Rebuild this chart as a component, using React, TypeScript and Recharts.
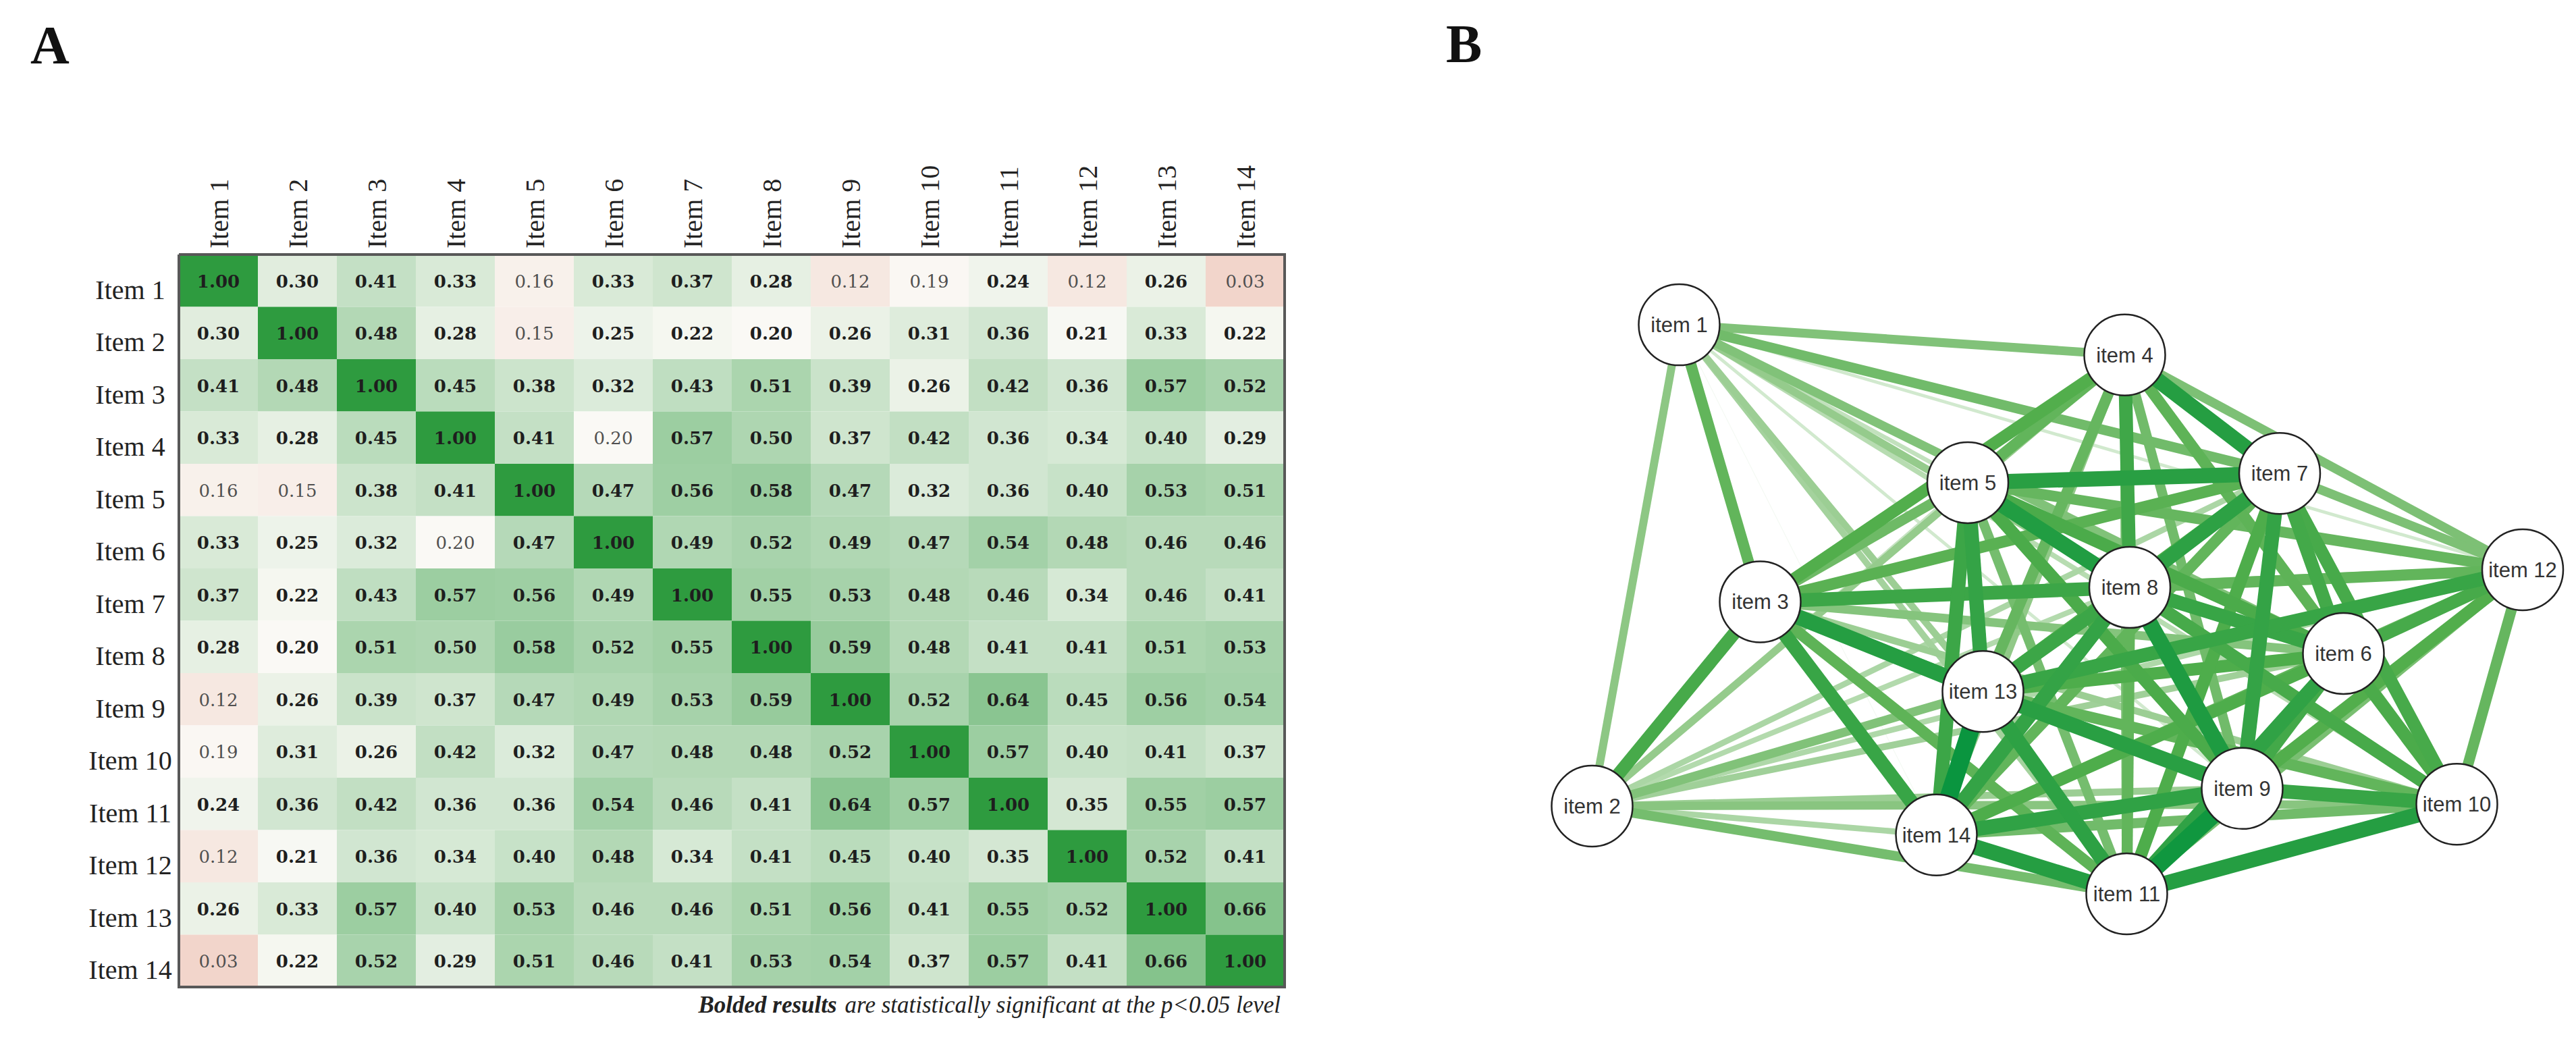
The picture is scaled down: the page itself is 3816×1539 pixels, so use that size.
import React from "react";
import { ScatterChart, Scatter, XAxis, YAxis } from "recharts";

// ---- data ----
const ITEMS = [
  "Item 1", "Item 2", "Item 3", "Item 4", "Item 5", "Item 6", "Item 7",
  "Item 8", "Item 9", "Item 10", "Item 11", "Item 12", "Item 13", "Item 14",
];
const NODE_LABELS = [
  "item 1", "item 2", "item 3", "item 4", "item 5", "item 6", "item 7",
  "item 8", "item 9", "item 10", "item 11", "item 12", "item 13", "item 14",
];

const ROW_1 = [1.0, 0.3, 0.41, 0.33, 0.16, 0.33, 0.37, 0.28, 0.12, 0.19, 0.24, 0.12, 0.26, 0.03];
const ROW_2 = [0.3, 1.0, 0.48, 0.28, 0.15, 0.25, 0.22, 0.2, 0.26, 0.31, 0.36, 0.21, 0.33, 0.22];
const ROW_3 = [0.41, 0.48, 1.0, 0.45, 0.38, 0.32, 0.43, 0.51, 0.39, 0.26, 0.42, 0.36, 0.57, 0.52];
const ROW_4 = [0.33, 0.28, 0.45, 1.0, 0.41, 0.2, 0.57, 0.5, 0.37, 0.42, 0.36, 0.34, 0.4, 0.29];
const ROW_5 = [0.16, 0.15, 0.38, 0.41, 1.0, 0.47, 0.56, 0.58, 0.47, 0.32, 0.36, 0.4, 0.53, 0.51];
const ROW_6 = [0.33, 0.25, 0.32, 0.2, 0.47, 1.0, 0.49, 0.52, 0.49, 0.47, 0.54, 0.48, 0.46, 0.46];
const ROW_7 = [0.37, 0.22, 0.43, 0.57, 0.56, 0.49, 1.0, 0.55, 0.53, 0.48, 0.46, 0.34, 0.46, 0.41];
const ROW_8 = [0.28, 0.2, 0.51, 0.5, 0.58, 0.52, 0.55, 1.0, 0.59, 0.48, 0.41, 0.41, 0.51, 0.53];
const ROW_9 = [0.12, 0.26, 0.39, 0.37, 0.47, 0.49, 0.53, 0.59, 1.0, 0.52, 0.64, 0.45, 0.56, 0.54];
const ROW_10 = [0.19, 0.31, 0.26, 0.42, 0.32, 0.47, 0.48, 0.48, 0.52, 1.0, 0.57, 0.4, 0.41, 0.37];
const ROW_11 = [0.24, 0.36, 0.42, 0.36, 0.36, 0.54, 0.46, 0.41, 0.64, 0.57, 1.0, 0.35, 0.55, 0.57];
const ROW_12 = [0.12, 0.21, 0.36, 0.34, 0.4, 0.48, 0.34, 0.41, 0.45, 0.4, 0.35, 1.0, 0.52, 0.41];
const ROW_13 = [0.26, 0.33, 0.57, 0.4, 0.53, 0.46, 0.46, 0.51, 0.56, 0.41, 0.55, 0.52, 1.0, 0.66];
const ROW_14 = [0.03, 0.22, 0.52, 0.29, 0.51, 0.46, 0.41, 0.53, 0.54, 0.37, 0.57, 0.41, 0.66, 1.0];
const MATRIX = [ROW_1, ROW_2, ROW_3, ROW_4, ROW_5, ROW_6, ROW_7, ROW_8, ROW_9, ROW_10, ROW_11, ROW_12, ROW_13, ROW_14];

// item pairs (1-based) that are NOT significant at p<0.05 -> regular weight
const NON_SIG = [[1, 5], [1, 9], [1, 10], [1, 12], [1, 14], [2, 5], [4, 6]];

// network layout, 0-100 both ways, y grows downward
const LAYOUT_X = [12.5, 3.9, 20.5, 56.5, 41.0, 78.1, 71.8, 57.0, 68.1, 89.3, 56.7, 95.8, 42.5, 37.9];
const LAYOUT_Y = [6.3, 79.8, 48.6, 10.9, 30.4, 56.5, 29.0, 46.4, 77.1, 79.5, 93.2, 43.7, 62.3, 84.2];

const TICKS = ITEMS.map((_, i) => i + 1);

// ---- derived ----
const isSig = (a: number, b: number) =>
  !NON_SIG.some(([p, q]) => (p === a && q === b) || (p === b && q === a));

const CELLS = MATRIX.flatMap((row, r) =>
  row.map((v, c) => ({ x: c + 1, y: r + 1, v, sig: isSig(r + 1, c + 1) }))
);

const FRAME = [
  { x: 0.5, y: 0.5 },
  { x: 14.5, y: 0.5 },
  { x: 14.5, y: 14.5 },
  { x: 0.5, y: 14.5 },
  { x: 0.5, y: 0.5 },
];

const NODES = NODE_LABELS.map((name, i) => ({ x: LAYOUT_X[i], y: LAYOUT_Y[i], name }));

const EDGES = MATRIX.flatMap((row, a) =>
  row.map((r, b) => ({ a, b, r })).filter((e) => e.b > a)
).sort((e1, e2) => e1.r - e2.r);

// ---- styles ----
const HM = { w: 1950, h: 1539, left: 265, top: 377, right: 1903, bottom: 1462 };
const CW = (HM.right - HM.left) / 14;
const CH = (HM.bottom - HM.top) / 14;

const NET = { left: 2250, top: 380, w: 1566, h: 1050 };

type RGB = [number, number, number];
const mix = (a: RGB, b: RGB, t: number) => {
  const k = Math.max(0, Math.min(1, t));
  const c = a.map((v, i) => Math.round(v + (b[i] - v) * k));
  return `rgb(${c[0]},${c[1]},${c[2]})`;
};

const HEAT_LO: RGB = [242, 213, 203];
const HEAT_MID: RGB = [250, 249, 245];
const HEAT_HI: RGB = [46, 155, 63];
function heatColor(v: number) {
  if (v <= 0.2) return mix(HEAT_LO, HEAT_MID, (v - 0.03) / 0.17);
  return mix(HEAT_MID, HEAT_HI, (v - 0.2) / 0.8);
}

const EDGE_STOPS: [number, RGB][] = [
  [0, [255, 255, 255]],
  [0.3, [141, 199, 132]],
  [0.45, [82, 174, 76]],
  [0.6, [26, 154, 64]],
  [0.7, [0, 146, 62]],
];
function edgeColor(r: number) {
  for (let i = 1; i < EDGE_STOPS.length; i++) {
    const [r0, c0] = EDGE_STOPS[i - 1];
    const [r1, c1] = EDGE_STOPS[i];
    if (r <= r1) return mix(c0, c1, (r - r0) / (r1 - r0));
  }
  const last = EDGE_STOPS[EDGE_STOPS.length - 1][1];
  return mix(last, last, 0);
}

const SERIF = "'Liberation Serif', 'Times New Roman', serif";

const CellShape = (p: any) => {
  const { cx, cy, payload } = p;
  return (
    <g>
      <rect x={cx - CW / 2} y={cy - CH / 2} width={CW} height={CH} fill={heatColor(payload.v)} />
      <text
        x={cx}
        y={cy + 10}
        textAnchor="middle"
        fontFamily="'DejaVu Serif', serif"
        fontSize={26}
        fontWeight={payload.sig ? 700 : 400}
        fill={payload.sig ? "#1e1e1e" : "#505050"}
      >
        {payload.v.toFixed(2)}
      </text>
    </g>
  );
};

const ColTick = (p: any) => {
  const x = p.x + 14;
  const y = HM.top - 9;
  return (
    <text x={x} y={y} transform={`rotate(-90, ${x}, ${y})`} textAnchor="start" fontFamily={SERIF} fontSize={40} fill="#222">
      {ITEMS[p.payload.value - 1]}
    </text>
  );
};

const RowTick = (p: any) => (
  <text x={HM.left - 72} y={p.y + 27} textAnchor="middle" fontFamily={SERIF} fontSize={40} fill="#222">
    {ITEMS[p.payload.value - 1]}
  </text>
);

const NodeShape = (p: any) => (
  <g>
    <circle cx={p.cx} cy={p.cy} r={60} fill="#fff" stroke="#222" strokeWidth={2.5} />
    <text x={p.cx} y={p.cy + 11} textAnchor="middle" fontFamily="'Liberation Sans', Arial, sans-serif" fontSize={31} fill="#333">
      {p.payload.name}
    </text>
  </g>
);

const Empty = () => <g />;

function Heatmap() {
  return (
    <ScatterChart
      width={HM.w}
      height={HM.h}
      margin={{ top: 0, left: 0, right: HM.w - HM.right, bottom: HM.h - HM.bottom }}
    >
      <XAxis
        type="number"
        dataKey="x"
        orientation="top"
        domain={[0.5, 14.5]}
        ticks={TICKS}
        interval={0}
        height={HM.top}
        axisLine={false}
        tickLine={false}
        tick={<ColTick />}
      />
      <YAxis
        type="number"
        dataKey="y"
        reversed
        domain={[0.5, 14.5]}
        ticks={TICKS}
        interval={0}
        width={HM.left}
        axisLine={false}
        tickLine={false}
        tick={<RowTick />}
      />
      <Scatter data={CELLS} shape={CellShape} isAnimationActive={false} />
      <Scatter
        data={FRAME}
        shape={Empty}
        line={{ stroke: "#585858", strokeWidth: 4 }}
        isAnimationActive={false}
      />
    </ScatterChart>
  );
}

function Network() {
  return (
    <ScatterChart width={NET.w} height={NET.h} margin={{ top: 40, right: 16, bottom: 40, left: 50 }}>
      <XAxis type="number" dataKey="x" domain={[0, 100]} hide />
      <YAxis type="number" dataKey="y" domain={[0, 100]} reversed hide />
      {EDGES.map((e) => (
        <Scatter
          key={`${e.a}-${e.b}`}
          data={[
            { x: LAYOUT_X[e.a], y: LAYOUT_Y[e.a] },
            { x: LAYOUT_X[e.b], y: LAYOUT_Y[e.b] },
          ]}
          shape={Empty}
          line={{ stroke: edgeColor(e.r), strokeWidth: Math.max(0.8, 40 * e.r) }}
          isAnimationActive={false}
        />
      ))}
      <Scatter data={NODES} shape={NodeShape} isAnimationActive={false} />
    </ScatterChart>
  );
}

export default function App() {
  return (
    <div style={{ position: "absolute", left: 0, top: 0, width: 3816, height: 1539, background: "#fff", overflow: "hidden" }}>
      <div style={{ position: "absolute", left: 0, top: 0 }}>
        <Heatmap />
      </div>
      <div style={{ position: "absolute", left: NET.left, top: NET.top }}>
        <Network />
      </div>
      <svg width={3816} height={1539} style={{ position: "absolute", left: 0, top: 0, pointerEvents: "none" }}>
        <text x={45} y={94} fontFamily={SERIF} fontWeight={700} fontSize={80} fill="#111">A</text>
        <text x={2142} y={92} fontFamily={SERIF} fontWeight={700} fontSize={80} fill="#111">B</text>
        <text x={1897} y={1500} textAnchor="end" fontFamily={SERIF} fontStyle="italic" fontSize={35} fill="#222">
          <tspan fontWeight={700}>Bolded results</tspan>
          <tspan dx={12}>are statistically significant at the p&lt;0.05 level</tspan>
        </text>
      </svg>
    </div>
  );
}
